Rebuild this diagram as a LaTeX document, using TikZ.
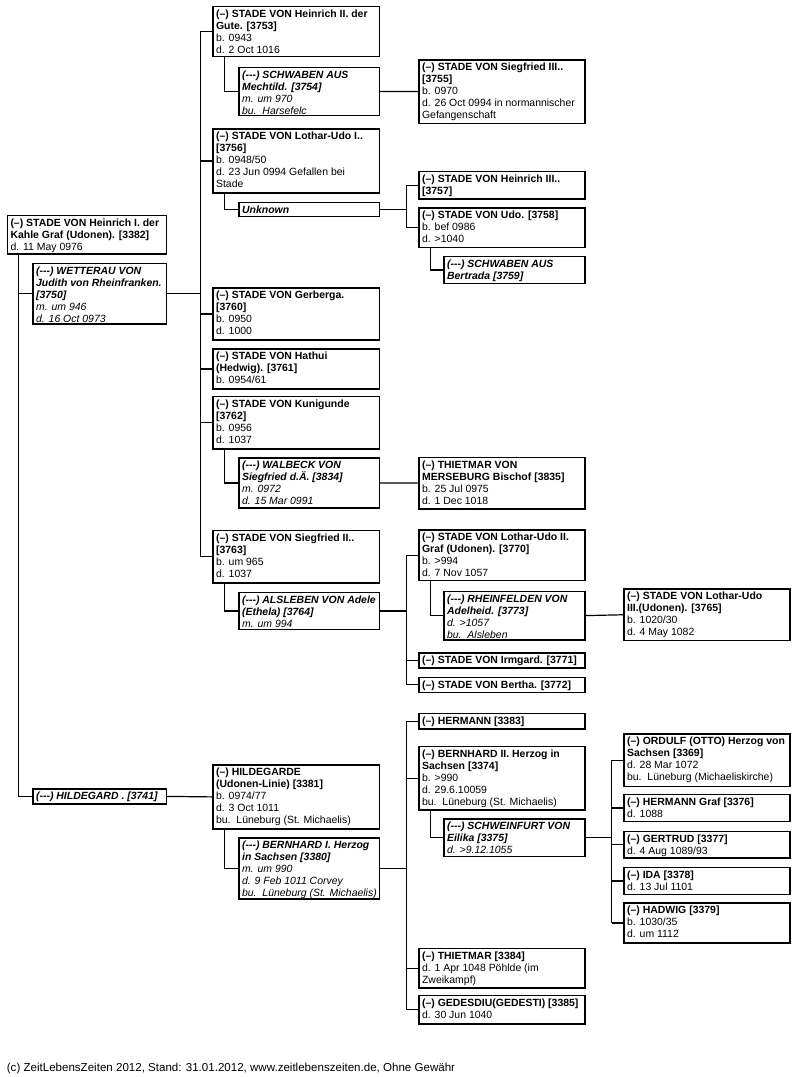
\documentclass[tikz,border=0pt]{standalone}
\usepackage{fontspec}
\newfontfamily\arial{Liberation Sans}
\usetikzlibrary{calc}
\newcommand{\bx}[3]{\parbox[c][#2bp][t]{#1bp}{\raggedright\leftskip=3.2bp\rightskip=0pt plus 1fil\rule{0pt}{11bp}#3}}
\newcommand{\nm}[1]{{\bfseries #1}}
\newcommand{\spn}[1]{{\bfseries\itshape #1}}
\tikzset{
 pbox/.style={draw, line width=1.2bp, inner sep=0pt, anchor=north west, font=\arial\fontsize{10.5}{12.05}\selectfont},
 ibox/.style={pbox, font=\arial\itshape\fontsize{10.5}{12.05}\selectfont},
 conn/.style={line width=1.2bp},
}
\begin{document}
\begin{tikzpicture}[x=1bp,y=-1bp]
\useasboundingbox[fill=white] (0,0) rectangle (797,1077);

% generation 1
\node[pbox] (h1) at (6.7,215) {\bx{159}{38.3}{\nm{(–) STADE VON Heinrich I. der\\Kahle Graf (Udonen). [3382]}\\d. 11 May 0976}};
\node[ibox] (wet) at (32.3,262.7) {\bx{133.4}{60.6}{\spn{(---) WETTERAU VON\\Judith von Rheinfranken.\\{}[3750]}\\m. um 946\\d. 16 Oct 0973}};
\node[ibox] (hild) at (32.3,788.3) {\bx{133.4}{15}{\spn{(---) HILDEGARD . [3741]}}};

% generation 2
\node[pbox] (h2) at (212.3,5.7) {\bx{166.4}{50.3}{\nm{(–) STADE VON Heinrich II. der\\Gute. [3753]}\\b. 0943\\d. 2 Oct 1016}};
\node[ibox] (mech) at (238.3,66.7) {\bx{140.4}{48.3}{\spn{(---) SCHWABEN AUS\\Mechtild. [3754]}\\m. um 970\\bu.\ \ Harsefelc}};
\node[pbox] (lu1) at (212.3,128.3) {\bx{166.4}{64}{\nm{(–) STADE VON Lothar-Udo I..\\{}[3756]}\\b. 0948/50\\d. 23 Jun 0994 Gefallen bei\\Stade}};
\node[ibox] (unk) at (238.3,201.7) {\bx{140.4}{14.3}{\spn{Unknown}}};
\node[pbox] (gerb) at (212.3,287.3) {\bx{166.4}{52}{\nm{(–) STADE VON Gerberga.\\{}[3760]}\\b. 0950\\d. 1000}};
\node[pbox] (hath) at (212.3,348.3) {\bx{166.4}{40}{\nm{(–) STADE VON Hathui\\(Hedwig). [3761]}\\b. 0954/61}};
\node[pbox] (kun) at (212.3,396) {\bx{166.4}{52.3}{\nm{(–) STADE VON Kunigunde\\{}[3762]}\\b. 0956\\d. 1037}};
\node[ibox] (walb) at (238.3,457.3) {\bx{140.4}{50}{\spn{(---) WALBECK VON\\Siegfried d.Ä. [3834]}\\m. 0972\\d. 15 Mar 0991}};
\node[pbox] (s2) at (212.3,530) {\bx{166.4}{52.3}{\nm{(–) STADE VON Siegfried II..\\{}[3763]}\\b. um 965\\d. 1037}};
\node[ibox] (als) at (238.3,591.7) {\bx{140.4}{37.3}{\spn{(---) ALSLEBEN VON Adele\\(Ethela) [3764]}\\m. um 994}};
\node[pbox] (hilde) at (212.3,764.3) {\bx{166.4}{64}{\nm{(–) HILDEGARDE\\(Udonen-Linie) [3381]}\\b. 0974/77\\d. 3 Oct 1011\\bu.\ \ Lüneburg (St. Michaelis)}};
\node[ibox] (bern1) at (238.3,837.3) {\bx{140.4}{61}{\spn{(---) BERNHARD I. Herzog\\in Sachsen [3380]}\\m. um 990\\d. 9 Feb 1011 Corvey\\bu.\ \ Lüneburg (St. Michaelis)}};

% generation 3
\node[pbox] (s3) at (418.3,59.3) {\bx{166}{63.4}{\nm{(–) STADE VON Siegfried III..\\{}[3755]}\\b. 0970\\d. 26 Oct 0994 in normannischer\\Gefangenschaft}};
\node[pbox] (h3) at (418.3,170.7) {\bx{166}{27.6}{\nm{(–) STADE VON Heinrich III..\\{}[3757]}}};
\node[pbox] (udo) at (418.3,207.3) {\bx{166}{39.4}{\nm{(–) STADE VON Udo. [3758]}\\b. bef 0986\\d. >1040}};
\node[ibox] (bert) at (443.3,256) {\bx{141}{26.7}{\spn{(---) SCHWABEN AUS\\Bertrada [3759]}}};
\node[pbox] (tm) at (418.3,456.7) {\bx{166}{51.6}{\nm{(–) THIETMAR VON\\MERSEBURG Bischof [3835]}\\b. 25 Jul 0975\\d. 1 Dec 1018}};
\node[pbox] (lu2) at (418.3,529.3) {\bx{166}{50.7}{\nm{(–) STADE VON Lothar-Udo II.\\Graf (Udonen). [3770]}\\b. >994\\d. 7 Nov 1057}};
\node[ibox] (rhein) at (443.3,590.7) {\bx{141}{48.6}{\spn{(---) RHEINFELDEN VON\\Adelheid. [3773]}\\d. >1057\\bu.\ \ Alsleben}};
\node[pbox] (irm) at (418.3,652.3) {\bx{166}{15}{\nm{(–) STADE VON Irmgard. [3771]}}};
\node[pbox] (berth) at (418.3,676.7) {\bx{166}{15}{\nm{(–) STADE VON Bertha. [3772]}}};
\node[pbox] (herm) at (418.3,712.7) {\bx{166}{15.6}{\nm{(–) HERMANN [3383]}}};
\node[pbox] (bern2) at (418.3,745.7) {\bx{166}{63.6}{\nm{(–) BERNHARD II. Herzog in\\Sachsen [3374]}\\b. >990\\d. 29.6.10059\\bu.\ \ Lüneburg (St. Michaelis)}};
\node[ibox] (schw) at (443.3,818.3) {\bx{141}{37.7}{\spn{(---) SCHWEINFURT VON\\Eilika [3375]}\\d. >9.12.1055}};
\node[pbox] (thi) at (418.3,947.7) {\bx{166}{39.6}{\nm{(–) THIETMAR [3384]}\\d. 1 Apr 1048 Pöhlde (im\\Zweikampf)}};
\node[pbox] (ged) at (418.3,995) {\bx{166}{28.3}{\nm{(–) GEDESDIU(GEDESTI)~[3385]}\\d. 30 Jun 1040}};

% generation 4
\node[pbox] (lu3) at (623.3,588.3) {\bx{166}{51.7}{\nm{(–) STADE VON Lothar-Udo\\III.(Udonen). [3765]}\\b. 1020/30\\d. 4 May 1082}};
\node[pbox] (ord) at (623.3,733.3) {\bx{166}{52.4}{\nm{(–) ORDULF (OTTO) Herzog~von\\Sachsen [3369]}\\d. 28 Mar 1072\\bu.\ \ Lüneburg (Michaeliskirche)}};
\node[pbox] (hg) at (623.3,793.7) {\bx{166}{27.3}{\nm{(–) HERMANN Graf [3376]}\\d. 1088}};
\node[pbox] (gert) at (623.3,830.7) {\bx{166}{26.6}{\nm{(–) GERTRUD [3377]}\\d. 4 Aug 1089/93}};
\node[pbox] (ida) at (623.3,866.7) {\bx{166}{27.3}{\nm{(–) IDA [3378]}\\d. 13 Jul 1101}};
\node[pbox] (had) at (623.3,902.3) {\bx{166}{40}{\nm{(–) HADWIG [3379]}\\b. 1030/35\\d. um 1112}};

% footer
\node[anchor=base west, inner sep=0pt, font=\arial\fontsize{11.6}{13}\selectfont] (foot) at (6.7,1071.5) {(c) ZeitLebensZeiten 2012, Stand: 31.01.2012, www.zeitlebenszeiten.de, Ohne Gewähr};

% connectors: spouses
\draw[conn] ($(h1.south west)+(11.6,0)$) |- (wet.west);
\draw[conn] ($(h1.south west)+(11.6,0)$) |- (hild.west);
\draw[conn] ($(h2.south west)+(12,0)$) |- (mech.west);
\draw[conn] ($(lu1.south west)+(12,0)$) |- (unk.west);
\draw[conn] ($(udo.south west)+(12.4,0)$) |- (bert.west);
\draw[conn] ($(kun.south west)+(12,0)$) |- (walb.west);
\draw[conn] ($(s2.south west)+(12,0)$) |- (als.west);
\draw[conn] ($(lu2.south west)+(12.4,0)$) |- (rhein.west);
\draw[conn] ($(hilde.south west)+(12,0)$) |- (bern1.west);
\draw[conn] ($(bern2.south west)+(12.4,0)$) |- (schw.west);

% connectors: single children
\draw[conn] (mech.east) -- (s3.west);
\draw[conn] (walb.east) -- (tm.west);
\draw[conn] (rhein.east) -- (lu3.west);
\draw[conn] (hild.east) -- (hilde.west);

% connectors: buses
\coordinate (b1) at ($(wet.east)+(33.3,0)$);
\draw[conn] (wet.east) -- (b1);
\draw[conn] (b1 |- h2.west) -- (b1 |- s2.west);
\foreach \c in {h2,lu1,gerb,hath,kun,s2} \draw[conn] (\c.west) -- (b1 |- \c.west);

\coordinate (b2) at ($(unk.east)+(26.3,0)$);
\draw[conn] (unk.east) -- (b2);
\draw[conn] (b2 |- h3.west) -- (b2 |- udo.west);
\foreach \c in {h3,udo} \draw[conn] (\c.west) -- (b2 |- \c.west);

\coordinate (b3) at ($(als.east)+(26.3,0)$);
\draw[conn] (als.east) -- (b3);
\draw[conn] (b3 |- lu2.west) -- (b3 |- berth.west);
\foreach \c in {lu2,irm,berth} \draw[conn] (\c.west) -- (b3 |- \c.west);

\coordinate (b4) at ($(bern1.east)+(26.3,0)$);
\draw[conn] (bern1.east) -- (b4);
\draw[conn] (b4 |- herm.west) -- (b4 |- ged.west);
\foreach \c in {herm,bern2,thi,ged} \draw[conn] (\c.west) -- (b4 |- \c.west);

\coordinate (b5) at ($(schw.east)+(26,0)$);
\draw[conn] (schw.east) -- (b5);
\draw[conn] (b5 |- ord.west) -- (b5 |- had.west);
\foreach \c in {ord,hg,gert,ida,had} \draw[conn] (\c.west) -- (b5 |- \c.west);
\end{tikzpicture}
\end{document}
